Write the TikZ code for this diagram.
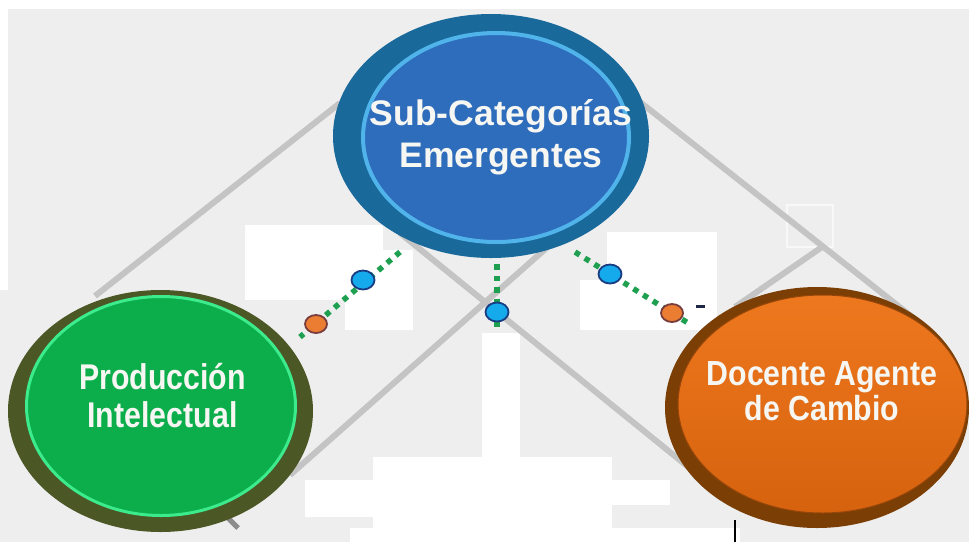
\documentclass[tikz,border=0pt]{standalone}
\usepackage{fontspec}
\setmainfont{Liberation Sans}
\usetikzlibrary{shapes.geometric}
\definecolor{bgray}{RGB}{239,238,239}
\definecolor{faintw}{RGB}{248,248,248}
\definecolor{lineg}{RGB}{196,196,196}
\definecolor{stubg}{RGB}{140,140,140}
\definecolor{dotg}{RGB}{30,160,80}
\definecolor{bdotf}{RGB}{20,170,235}
\definecolor{bdotb}{RGB}{25,60,130}
\definecolor{odotf}{RGB}{235,125,50}
\definecolor{odotb}{RGB}{120,60,60}
\definecolor{blueo}{RGB}{25,105,155}
\definecolor{bluei}{RGB}{46,108,188}
\definecolor{bluer}{RGB}{80,180,235}
\definecolor{greeno}{RGB}{75,88,38}
\definecolor{greeni}{RGB}{12,173,75}
\definecolor{greenr}{RGB}{60,235,140}
\definecolor{orangeo}{RGB}{123,63,5}
\definecolor{orangeb}{RGB}{150,70,10}
\definecolor{orangetop}{RGB}{238,120,30}
\definecolor{orangebot}{RGB}{214,98,14}
\definecolor{txt}{RGB}{246,246,242}
\definecolor{dashc}{RGB}{30,40,70}
\newcommand{\stretchtext}[2]{\scalebox{1}[#1]{\begin{tabular}{@{}c@{}}#2\end{tabular}}}
\begin{document}
\begin{tikzpicture}[x=1pt,y=-1pt,
  patch/.style={fill=white,draw=none},
  grayline/.style={draw=lineg,line width=6pt},
  dotline/.style={draw=dotg,line width=5.5pt,dash pattern=on 5.5pt off 6pt},
  bdot/.style={ellipse,draw=bdotb,fill=bdotf,line width=1.8pt,minimum width=23pt,minimum height=19pt,inner sep=0pt},
  odot/.style={ellipse,draw=odotb,fill=odotf,line width=1.8pt,minimum width=22pt,minimum height=18pt,inner sep=0pt},
  ell/.style={ellipse,inner sep=0pt,outer sep=0pt},
  lbl/.style={text=txt,align=center,inner sep=0pt}
]
\fill[bgray] (0,0) rectangle (969,542);
\useasboundingbox (0,0) rectangle (969,542);
% white patches
\fill[patch] (0,0) rectangle (969,9);
\fill[patch] (0,0) rectangle (8,290);
\fill[patch] (245,225) rectangle (383,300);
\fill[patch] (345,250) rectangle (413,330);
\fill[patch] (482,333) rectangle (520,457);
\fill[patch] (373,457) rectangle (612,542);
\fill[patch] (305,480) rectangle (373,517);
\fill[patch] (350,528) rectangle (740,542);
\fill[patch] (612,480) rectangle (670,505);
\fill[patch] (607,232) rectangle (717,330);
\fill[patch] (580,280) rectangle (717,330);
\draw[faintw,line width=1.2pt] (787,205) rectangle (833,247);
% gray lines
\coordinate (l1a) at (340,103); \coordinate (l1b) at (95,296);
\coordinate (l2a) at (640,102); \coordinate (l2b) at (935,335);
\coordinate (jn) at (822,247);  \coordinate (jb) at (735,307);
\coordinate (x1a) at (400,233); \coordinate (x1b) at (692,470);
\coordinate (x2a) at (560,236); \coordinate (x2b) at (290,475);
\coordinate (s1) at (195,485);  \coordinate (s2) at (238,528);
\draw[grayline] (l1a) -- (l1b);
\draw[grayline] (l2a) -- (l2b);
\draw[grayline] (jn) -- (jb);
\draw[grayline] (x1a) -- (x1b);
\draw[grayline] (x2a) -- (x2b);
\draw[draw=stubg,line width=5pt] (s1) -- (s2);
% dotted connectors
\coordinate (dla) at (400,252); \coordinate (dlb) at (300,337);
\coordinate (dca) at (497,264); \coordinate (dcb) at (497,332);
\coordinate (dra) at (575,252); \coordinate (drb) at (688,323);
\draw[dotline] (dla) -- (dlb);
\draw[dotline] (dca) -- (dcb);
\draw[dotline] (dra) -- (drb);
\node[bdot] (bdl) at (363,280) {};
\node[odot] (odl) at (316,324) {};
\node[bdot] (bdc) at (497,312) {};
\node[bdot] (bdr) at (610,274) {};
\node[odot] (odr) at (672,313) {};
\fill[dashc] (696,304.5) rectangle (705,307.5);
\coordinate (tk1) at (735,520); \coordinate (tk2) at (735,542);
\draw[black,line width=1.5pt] (tk1) -- (tk2);
% main ellipses
\node[ell,fill=blueo,minimum width=316pt,minimum height=244pt] (bo) at (491,136) {};
\node[ell,fill=bluei,draw=bluer,line width=4pt,minimum width=266pt,minimum height=209pt] (bi) at (496,137.5) {};
\node[ell,fill=greeno,minimum width=305pt,minimum height=242pt] (go) at (160.5,411) {};
\node[ell,fill=greeni,draw=greenr,line width=3pt,minimum width=269pt,minimum height=219pt] (gi) at (161,406) {};
\node[ell,fill=orangeo,minimum width=304pt,minimum height=241pt] (oo) at (817,407.5) {};
\node[ell,top color=orangetop,bottom color=orangebot,draw=orangeb,line width=1pt,minimum width=289pt,minimum height=218pt] (oi) at (822.5,404) {};
% labels
\node[lbl,font=\bfseries\fontsize{35.5}{42}\selectfont] (bt) at (501,137) {Sub-Categorías\\Emergentes};
\node[lbl,font=\bfseries\fontsize{30.3}{32.2}\selectfont] (gt) at (162.5,401) {\stretchtext{1.18}{Producción\\Intelectual}};
\node[lbl,font=\bfseries\fontsize{30.3}{30.4}\selectfont] (ot) at (822,396) {\stretchtext{1.15}{Docente Agente\\de Cambio}};
\end{tikzpicture}
\end{document}
